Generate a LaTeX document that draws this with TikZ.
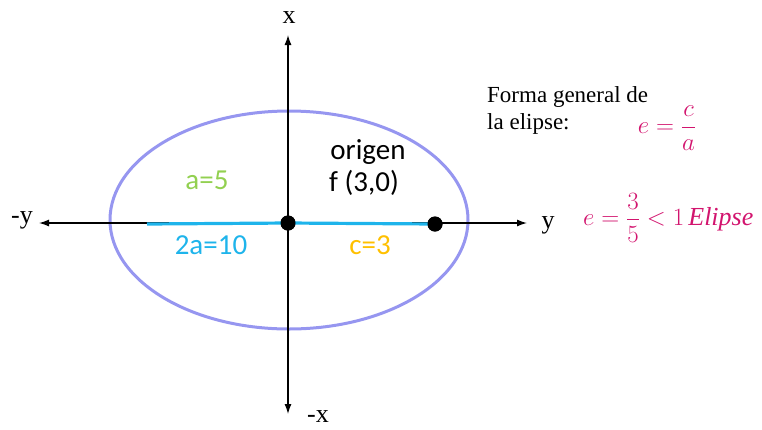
\documentclass[tikz,border=0pt]{standalone}
\usepackage{amsmath}
\usepackage{fontspec}
\setmainfont{Liberation Serif}
\newfontfamily\calfont{Carlito}
\usetikzlibrary{arrows.meta}
\definecolor{ellc}{RGB}{150,150,240}
\definecolor{bluec}{RGB}{30,180,235}
\definecolor{greenc}{RGB}{146,208,80}
\definecolor{orangec}{RGB}{255,192,0}
\definecolor{magc}{RGB}{210,20,110}
\tikzset{
  axis/.style={line width=1.3pt,{Latex[length=10pt,width=7pt]}-{Latex[length=10pt,width=7pt]}},
  dotnode/.style={circle,fill=black,inner sep=0pt,minimum size=15pt},
  lab/.style={inner sep=0pt,font=\calfont\fontsize{29}{33}\selectfont},
  axlab/.style={inner sep=0pt,font=\fontsize{26}{30}\selectfont},
  txt/.style={inner sep=0pt,anchor=west,font=\fontsize{23}{27}\selectfont},
  mathlab/.style={inner sep=0pt,text=magc,font=\fontsize{26}{30}\selectfont}
}
\begin{document}
\begin{tikzpicture}[x=1pt,y=-1pt]
\useasboundingbox (0,0) rectangle (762,429);
% ellipse
\draw[ellc,line width=3pt] (289,220) ellipse [x radius=179, y radius=109];
% axes
\coordinate (xt) at (288,35);
\coordinate (xb) at (288,414);
\coordinate (yl) at (39,223);
\coordinate (yr) at (527,223);
\draw[axis] (xb) -- (xt);
\draw[axis] (yl) -- (yr);
% blue segment and dots
\coordinate (bl) at (147,224);
\node[dotnode] (o) at (288,223) {};
\node[dotnode] (f) at (435,224) {};
\draw[bluec,line width=3.2pt] (bl) -- (o.center) -- (f.center);
\node[dotnode] at (o) {};
\node[dotnode] at (f) {};
% axis labels
\node[axlab] (lx) at (289,18) {x};
\node[axlab] (lmx) at (318,417) {-x};
\node[axlab] (lmy) at (22,220) {-y};
\node[axlab] (ly) at (548,225) {y};
% labels
\node[lab,text=greenc] (a5) at (207,180) {a=5};
\node[lab] (orig) at (368,152) {origen};
\node[lab] (foc) at (364,183) {f (3,0)};
\node[lab,text=bluec] (a10) at (211,245) {2a=10};
\node[lab,text=orangec] (c3) at (370,245) {c=3};
% right texts
\node[txt] (t1) at (487,97) {Forma general de};
\node[txt] (t2) at (487,124) {la elipse:};
\node[mathlab] (e1) at (667,128) {$e=\dfrac{c}{a}$};
\node[mathlab,anchor=west] (e2) at (583,218) {$e=\dfrac{3}{5}<1\,\mathit{Elipse}$};
\end{tikzpicture}
\end{document}
